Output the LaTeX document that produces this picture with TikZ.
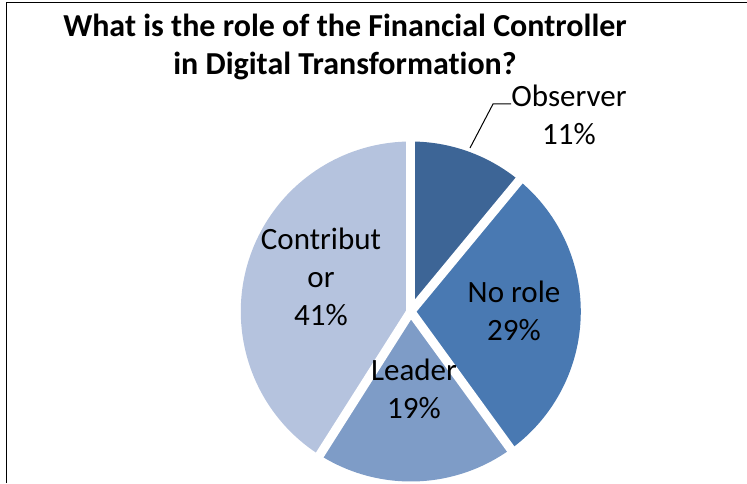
\documentclass[tikz,border=0pt]{standalone}
\usepackage{fontspec}
\setmainfont{Carlito}[Ligatures=NoCommon]
\usepackage{tikz}
\definecolor{observercolor}{RGB}{61, 101, 150}
\definecolor{norolecolor}{RGB}{73, 121, 178}
\definecolor{leadercolor}{RGB}{126, 156, 199}
\definecolor{contribcolor}{RGB}{181, 195, 222}

\begin{document}
\begin{tikzpicture}[x=1pt, y=1pt,
  slicelabel/.style={align=center, inner sep=0pt, font=\fontsize{31}{38}\selectfont},
  slicegap/.style={white, line width=9pt}]
\useasboundingbox (0,0) rectangle (747,483);
\draw[line width=1.7pt] (6.5,0) -- (6.5,480.5) -- (747,480.5);
\node[align=center, inner sep=0pt, font=\bfseries\fontsize{32}{38}\selectfont] (title) at (345,436) {What is the role of the Financial Controller\\in Digital Transformation?};
\coordinate (center) at (410.8,171.5);
\fill[observercolor] (center) -- ++(90:170) arc[start angle=90, end angle=50.4, radius=170] -- cycle;
\fill[norolecolor] (center) -- ++(50.4:170) arc[start angle=50.4, end angle=-54, radius=170] -- cycle;
\fill[leadercolor] (center) -- ++(-54:170) arc[start angle=-54, end angle=-122.4, radius=170] -- cycle;
\fill[contribcolor] (center) -- ++(-122.4:170) arc[start angle=-122.4, end angle=-270, radius=170] -- cycle;
\foreach \a in {90, 50.4, -54, -122.4}
  \draw[slicegap] (center) -- ++(\a:176);
\node[slicelabel] (observer) at (569,368) {Observer\\11\%};
\node[slicelabel] (norole) at (514,172) {No role\\29\%};
\node[slicelabel] (leader) at (414,94) {Leader\\19\%};
\node[slicelabel] (contrib) at (321,206) {Contribut\\or\\41\%};
\coordinate (obstip) at (470,335);
\coordinate (obsknee) at (493,379);
\draw[line width=1pt] (obstip) -- (obsknee) -- (obsknee -| observer.west);
\end{tikzpicture}
\end{document}
